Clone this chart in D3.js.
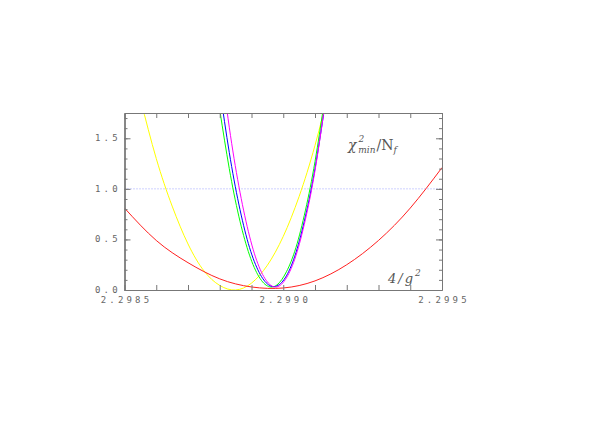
<!DOCTYPE html>
<html>
<head>
<meta charset="utf-8">
<script src="https://cdnjs.cloudflare.com/ajax/libs/d3/7.8.5/d3.min.js"></script>
<style>
  body { margin: 0; background: #fff; }
  .tick-label { font-family: "DejaVu Sans Mono", monospace; font-size: 9px; fill: #666; letter-spacing: 3.2px; }
  .title { font-family: "DejaVu Serif", serif; fill: #555; font-style: italic; }
</style>
</head>
<body>
<div id="chart"></div>
<script>
// values: 4/g^2 vs chi^2_min/N_f
var xTicks = [2.2985, 2.2990, 2.2995];

var redX = [2.2985, 2.2986, 2.2987, 2.2988, 2.2989, 2.2990, 2.2991, 2.2992, 2.2993, 2.2994, 2.2995];
var redY = [0.81, 0.49, 0.27, 0.11, 0.03, 0.02, 0.09, 0.25, 0.49, 0.81, 1.21];

var yellowX = [2.29855, 2.2986, 2.29865, 2.2987, 2.29875, 2.2988, 2.29885, 2.2989, 2.29895, 2.2990, 2.29905, 2.2991, 2.29915];
var yellowY = [1.89, 1.30, 0.83, 0.455, 0.19, 0.045, 0.0, 0.068, 0.245, 0.53, 0.925, 1.43, 2.05];

var narrowX = [2.29880, 2.29883, 2.29886, 2.29889, 2.29892, 2.29895, 2.29898, 2.29901, 2.29904, 2.29907, 2.29910, 2.29913];
var greenY = [1.78, 1.20, 0.73, 0.38, 0.15, 0.04, 0.05, 0.18, 0.42, 0.79, 1.27, 1.88];
var blueY = [1.99, 1.36, 0.85, 0.46, 0.20, 0.06, 0.04, 0.14, 0.37, 0.73, 1.20, 1.80];
var magentaY = [2.33, 1.61, 1.03, 0.58, 0.26, 0.08, 0.03, 0.12, 0.34, 0.70, 1.18, 1.81];

(function() {
  var series = [
    { xs: yellowX, ys: yellowY, color: "#ffff00" },
    { xs: narrowX, ys: greenY, color: "#00ff00" },
    { xs: narrowX, ys: blueY, color: "#0000ff" },
    { xs: narrowX, ys: magentaY, color: "#ff00ff" },
    { xs: redX, ys: redY, color: "#ff2020" }
  ];

  let W = 599, H = 436;
  let pLeft = 124.5, pRight = 442, pTop = 113, pBottom = 290;

  let svg = d3.select("#chart").append("svg")
    .attr("width", W)
    .attr("height", H);

  let x = d3.scaleLinear().domain([2.2985, 2.2995]).range([pLeft, pRight]);
  let y = d3.scaleLinear().domain([0, 1.75]).range([pBottom, pTop]);

  svg.append("clipPath").attr("id", "clip")
    .append("rect")
    .attr("x", pLeft).attr("y", pTop)
    .attr("width", pRight - pLeft).attr("height", pBottom - pTop);

  // dotted reference line at 1.0
  svg.append("line")
    .attr("x1", pLeft).attr("x2", pRight)
    .attr("y1", y(1)).attr("y2", y(1))
    .attr("stroke", "#9ea4ff")
    .attr("stroke-width", 1)
    .attr("stroke-dasharray", "1,2");

  let line = d3.line()
    .x((d) => x(d[0]))
    .y((d) => y(d[1]))
    .curve(d3.curveNatural);

  let g = svg.append("g").attr("clip-path", "url(#clip)");

  series.forEach(function(s) {
    let pts = s.xs.map((v, i) => [v, s.ys[i]]);
    g.append("path")
      .datum(pts)
      .attr("d", line)
      .attr("fill", "none")
      .attr("stroke", s.color)
      .attr("stroke-width", 1);
  });

  // axes: ticks pointing inward, labels drawn separately
  let axisColor = "#777";
  let xMinor = d3.range(0, 11).map((i) => 2.2985 + i * 0.0001);

  let bAxis = svg.append("g").attr("transform", "translate(0," + pBottom + ")")
    .call(d3.axisBottom(x).tickValues(xMinor).tickSizeInner(-5).tickSizeOuter(0).tickFormat(""));
  let tAxis = svg.append("g").attr("transform", "translate(0," + pTop + ")")
    .call(d3.axisTop(x).tickValues(xMinor).tickSizeInner(-5).tickSizeOuter(0).tickFormat(""));

  let yMinor = d3.range(0, 18).map((i) => i / 10);
  let yMajor = [0, 0.5, 1.0, 1.5];

  let lAxis = svg.append("g").attr("transform", "translate(" + pLeft + ",0)")
    .call(d3.axisLeft(y).tickValues(yMinor).tickSizeInner(-3).tickSizeOuter(0).tickFormat(""));
  let rAxis = svg.append("g").attr("transform", "translate(" + pRight + ",0)")
    .call(d3.axisRight(y).tickValues(yMinor).tickSizeInner(-3).tickSizeOuter(0).tickFormat(""));
  let lMaj = svg.append("g").attr("transform", "translate(" + pLeft + ",0)")
    .call(d3.axisLeft(y).tickValues(yMajor).tickSizeInner(-6).tickSizeOuter(0).tickFormat(""));
  let rMaj = svg.append("g").attr("transform", "translate(" + pRight + ",0)")
    .call(d3.axisRight(y).tickValues(yMajor).tickSizeInner(-6).tickSizeOuter(0).tickFormat(""));

  [bAxis, tAxis, lAxis, rAxis, lMaj, rMaj].forEach(function(a) {
    a.selectAll("path, line").attr("stroke", axisColor);
  });
  lAxis.select(".domain").attr("stroke-width", 1.5);

  // tick labels
  svg.selectAll(".ylab")
    .data(yMajor)
    .enter().append("text")
    .attr("class", "tick-label")
    .attr("x", 95)
    .attr("y", (d) => y(d) + 3)
    .text((d) => d3.format(".1f")(d));

  svg.selectAll(".xlab")
    .data(xTicks)
    .enter().append("text")
    .attr("class", "tick-label")
    .attr("text-anchor", "middle")
    .attr("x", (d) => x(d) + 2)
    .attr("y", 303)
    .text((d) => d3.format(".4f")(d));

  // axis titles inside the plot
  let t1 = svg.append("text").attr("class", "title").attr("x", 348).attr("y", 150).attr("font-size", 14);
  t1.append("tspan").text("χ");
  t1.append("tspan").attr("font-size", 9).attr("dy", -8).attr("dx", 2).text("2");
  t1.append("tspan").attr("font-size", 9).attr("dy", 11).attr("dx", -6).text("min");
  t1.append("tspan").attr("dy", -3).attr("dx", 1).attr("font-style", "normal").text("/N");
  t1.append("tspan").attr("font-size", 9).attr("dy", 3).text("f");

  let t2 = svg.append("text").attr("class", "title").attr("x", 388).attr("y", 283).attr("font-size", 13)
    .attr("letter-spacing", "2px");
  t2.append("tspan").text("4/g");
  t2.append("tspan").attr("font-size", 9).attr("dy", -7).text("2");
})();
</script>
</body>
</html>
